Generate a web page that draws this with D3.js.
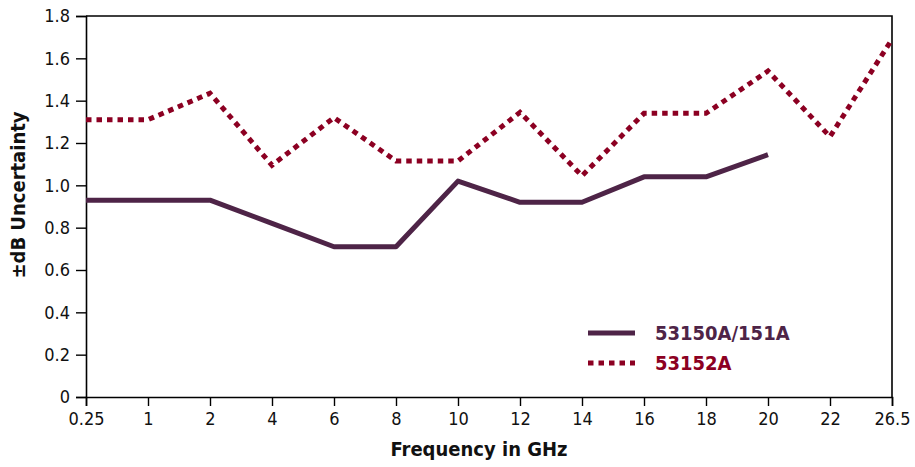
<!DOCTYPE html>
<html>
<head>
<meta charset="utf-8">
<script src="https://cdn.jsdelivr.net/npm/d3@7"></script>
<style>
  body { margin: 0; background: #fff; }
  text { font-family: "Liberation Sans Narrow", "DejaVu Sans Condensed", "Roboto", sans-serif; }
</style>
</head>
<body>
<svg id="chart"></svg>
<script>
const freqs = ['0.25', '1', '2', '4', '6', '8', '10', '12', '14', '16', '18', '20', '22', '26.5'];
const series53150 = [0.93, 0.93, 0.93, 0.82, 0.71, 0.71, 1.02, 0.92, 0.92, 1.04, 1.04, 1.145, null, null];
const series53152 = [1.31, 1.31, 1.435, 1.095, 1.32, 1.115, 1.115, 1.345, 1.045, 1.34, 1.34, 1.54, 1.23, 1.69];
const yTicks = [0, 0.2, 0.4, 0.6, 0.8, 1.0, 1.2, 1.4, 1.6, 1.8];

const width = 915;
const height = 467;
const margin = { top: 16, right: 23, bottom: 70, left: 86 };
const innerW = width - margin.left - margin.right;
const innerH = height - margin.top - margin.bottom;

const svg = d3.select('#chart')
  .attr('width', width)
  .attr('height', height);

const chart = svg.append('g')
  .attr('transform', `translate(${margin.left},${margin.top})`);

const x = d3.scalePoint().domain(freqs).range([0, innerW]);
const y = d3.scaleLinear().domain([0, 1.8]).range([innerH, 0]);

// frame (top + right)
chart.append('path')
  .attr('d', `M0,0H${innerW}V${innerH}`)
  .attr('fill', 'none')
  .attr('stroke', '#000')
  .attr('stroke-width', 1.6);

// X axis
const xAxis = chart.append('g')
  .attr('transform', `translate(0,${innerH})`)
  .call(d3.axisBottom(x).tickSize(9).tickPadding(6));

// Y axis
const yAxis = chart.append('g')
  .call(d3.axisLeft(y).tickValues(yTicks).tickSize(10).tickPadding(6)
    .tickFormat(d => d === 0 ? '0' : d3.format('.1f')(d)));

[xAxis, yAxis].forEach(a => {
  a.select('.domain').attr('stroke', '#000').attr('stroke-width', 1.6);
  a.selectAll('.tick line').attr('stroke', '#000').attr('stroke-width', 1.4);
  a.selectAll('.tick text')
    .attr('fill', '#111')
    .style('font-size', '18px');
});

// Lines
const line = d3.line()
  .defined(d => d != null)
  .x((d, i) => x(freqs[i]))
  .y(d => y(d));

chart.append('path')
  .datum(series53150)
  .attr('fill', 'none')
  .attr('stroke', '#4e2447')
  .attr('stroke-width', 5)
  .attr('stroke-linejoin', 'round')
  .attr('d', line);

chart.append('path')
  .datum(series53152)
  .attr('fill', 'none')
  .attr('stroke', '#8c0022')
  .attr('stroke-width', 5)
  .attr('stroke-dasharray', '5.5,5')
  .attr('d', line);

// Legend
const legend = svg.append('g').attr('transform', 'translate(588,333)');
legend.append('line')
  .attr('x1', 0).attr('x2', 47).attr('y1', 0).attr('y2', 0)
  .attr('stroke', '#4e2447').attr('stroke-width', 5);
legend.append('text')
  .attr('x', 67).attr('y', 7)
  .attr('fill', '#4e2447')
  .style('font-size', '20px').style('font-weight', 'bold')
  .text('53150A/151A');
legend.append('line')
  .attr('x1', 0).attr('x2', 47).attr('y1', 30).attr('y2', 30)
  .attr('stroke', '#8c0022').attr('stroke-width', 5)
  .attr('stroke-dasharray', '5.5,5');
legend.append('text')
  .attr('x', 67).attr('y', 37)
  .attr('fill', '#8c0022')
  .style('font-size', '20px').style('font-weight', 'bold')
  .text('53152A');

// Axis titles
svg.append('text')
  .attr('x', 479)
  .attr('y', 456)
  .attr('text-anchor', 'middle')
  .style('font-size', '20px').style('font-weight', 'bold')
  .attr('fill', '#111')
  .text('Frequency in GHz');

svg.append('text')
  .attr('transform', 'translate(25,195) rotate(-90)')
  .attr('text-anchor', 'middle')
  .style('font-size', '20px').style('font-weight', 'bold')
  .attr('fill', '#111')
  .text('±dB Uncertainty');
</script>
</body>
</html>
